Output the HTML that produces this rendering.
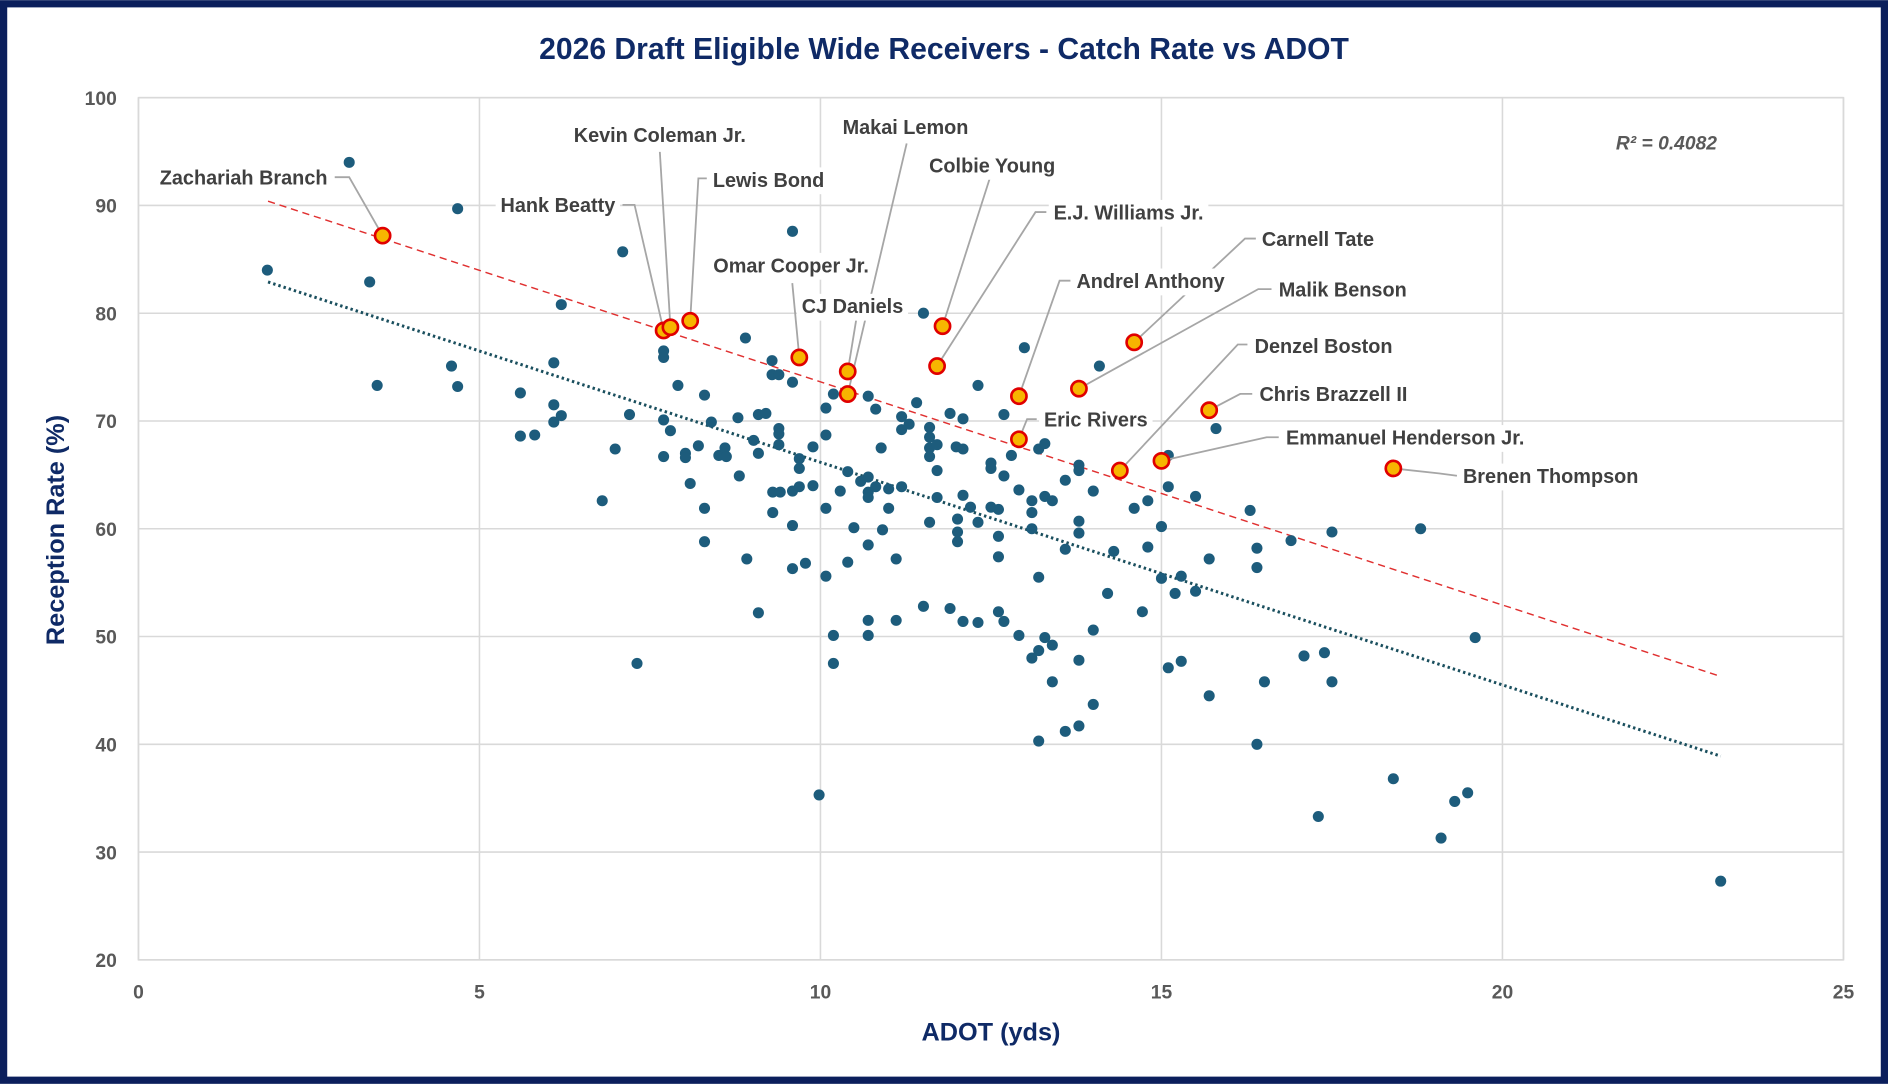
<!DOCTYPE html>
<html><head><meta charset="utf-8">
<style>
html,body{margin:0;padding:0;background:#fff;}
svg{display:block;}
text{font-family:"Liberation Sans",sans-serif;}
</style></head>
<body>
<svg id="chart" width="1888" height="1084" viewBox="0 0 1568 900" xmlns="http://www.w3.org/2000/svg">
<rect x="3" y="3" width="1562" height="894" fill="#fff" stroke="#0b1f5c" stroke-width="6"/>
<text x="784" y="49" text-anchor="middle" font-size="25" font-weight="bold" fill="#0f2a66">2026 Draft Eligible Wide Receivers - Catch Rate vs ADOT</text>
<g id="grid"></g>
<g id="axes"></g>
<g id="trend"></g>
<g id="dots"></g>
<g id="leaders"></g>
<g id="hi"></g>
<g id="labels"></g>
<text x="1342" y="124" font-size="16" font-style="italic" font-weight="bold" fill="#595959">R² = 0.4082</text>
<text transform="translate(53,440) rotate(-90)" text-anchor="middle" font-size="21" font-weight="bold" fill="#0f2a66">Reception Rate (%)</text>
<text x="823" y="864" text-anchor="middle" font-size="21" font-weight="bold" fill="#0f2a66">ADOT (yds)</text>
</svg>
<script>
const xTicks=[0,5,10,15,20,25];
const yTicks=[20,30,40,50,60,70,80,90,100];
const adot=[1.89,3.09,3.39,3.50,4.68,4.59,4.68,5.60,5.60,5.81,6.09,6.09,6.09,6.20,6.20,7.10,6.99,6.80,7.20,7.31,7.70,7.70,7.70,7.70,7.80,7.91,8.02,8.02,8.09,8.21,8.30,8.30,8.30,8.40,8.51,8.60,8.62,8.81,8.79,8.90,8.92,9.02,9.09,9.09,9.09,9.20,9.29,9.29,9.30,9.30,9.39,9.39,9.39,9.39,9.41,9.59,9.59,9.59,9.59,9.59,9.69,9.69,9.69,9.78,9.89,9.89,9.98,10.08,10.08,10.08,10.08,10.19,10.19,10.19,10.29,10.40,10.40,10.49,10.59,10.70,10.70,10.70,10.70,10.70,10.70,10.70,10.81,10.81,10.89,10.91,11.00,11.00,11.11,11.11,11.19,11.19,11.19,11.30,11.41,11.51,11.51,11.60,11.60,11.60,11.60,11.60,11.71,11.71,11.71,11.90,11.90,11.99,12.01,12.01,12.01,12.09,12.09,12.09,12.09,12.20,12.31,12.31,12.31,12.50,12.50,12.50,12.61,12.61,12.61,12.61,12.69,12.69,12.69,12.80,12.91,12.91,12.99,13.10,13.10,13.10,13.10,13.20,13.20,13.20,13.20,13.29,13.29,13.29,13.40,13.40,13.40,13.59,13.59,13.59,13.79,13.79,13.79,13.79,13.79,13.79,14.00,14.00,14.00,14.09,14.21,14.30,14.60,14.72,14.80,14.80,15.00,15.00,15.10,15.10,15.10,15.20,15.29,15.29,15.50,15.50,15.70,15.70,15.80,16.30,16.40,16.40,16.40,16.51,16.90,17.09,17.30,17.39,17.50,17.50,18.40,18.80,19.10,19.30,19.49,19.60,23.20];
const rate=[84.0,94.0,82.9,73.3,89.7,75.1,73.2,72.6,68.6,68.7,75.4,71.5,69.9,70.5,80.8,85.7,67.4,62.6,70.6,47.5,76.5,75.9,70.1,66.7,69.1,73.3,67.0,66.6,64.2,67.7,72.4,61.9,58.8,69.9,66.8,67.5,66.7,64.9,70.3,77.7,57.2,68.2,70.6,67.0,52.2,70.7,75.6,74.3,63.4,61.5,69.3,68.8,67.8,74.3,63.4,87.6,73.6,63.5,60.3,56.3,66.5,65.6,63.9,56.8,67.6,64.0,35.3,71.2,68.7,61.9,55.6,72.5,50.1,47.5,63.5,65.3,56.9,60.1,64.4,72.3,64.8,63.4,62.9,58.5,51.5,50.1,71.1,63.9,67.5,59.9,63.7,61.9,57.2,51.5,70.4,69.2,63.9,69.7,71.7,80.0,52.8,69.4,68.5,67.5,66.7,60.6,67.8,65.4,62.9,70.7,52.6,67.6,60.9,59.7,58.8,70.2,67.4,63.1,51.4,62.0,73.3,60.6,51.3,66.1,65.6,62.0,61.8,59.3,57.4,52.3,70.6,64.9,51.4,66.8,63.6,50.1,76.8,62.6,61.5,60.0,48.0,67.4,55.5,48.7,40.3,67.9,63.0,49.9,62.6,49.2,45.8,64.5,58.1,41.2,65.9,65.4,60.7,59.6,47.8,41.7,63.5,50.6,43.7,75.1,54.0,57.9,61.9,52.3,62.6,58.3,60.2,55.4,66.8,63.9,47.1,54.0,55.6,47.7,63.0,54.2,57.2,44.5,69.3,61.7,58.2,56.4,40.0,45.8,58.9,48.2,33.3,48.5,59.7,45.8,36.8,60.0,31.3,34.7,35.5,49.9,27.3];
const hiNames=["Zachariah Branch","Hank Beatty","Kevin Coleman Jr.","Lewis Bond","Omar Cooper Jr.","CJ Daniels","Makai Lemon","Colbie Young","E.J. Williams Jr.","Andrel Anthony","Eric Rivers","Carnell Tate","Malik Benson","Denzel Boston","Chris Brazzell II","Emmanuel Henderson Jr.","Brenen Thompson"];
const hiAdot=[3.58,7.70,7.80,8.09,9.69,10.40,10.40,11.79,11.71,12.91,12.91,14.60,13.79,14.39,15.70,15.00,18.40];
const hiRate=[87.2,78.4,78.7,79.3,75.9,74.6,72.5,78.8,75.1,72.3,68.3,77.3,73.0,65.4,71.0,66.3,65.6];
const trendX=[1.9,23.2];
const trendBlue=[82.9,38.9];
const trendRed=[90.4,46.3];

const X0=115,X1=1531,Y0=797,Y1=81;
const sx=v=>X0+(v-0)/25*(X1-X0);
const sy=v=>Y0-(v-20)/80*(Y0-Y1);
const NS="http://www.w3.org/2000/svg";
function mk(tag,attrs,parent){const e=document.createElementNS(NS,tag);for(const k in attrs)e.setAttribute(k,attrs[k]);parent.appendChild(e);return e;}
const grid=document.getElementById('grid'),axes=document.getElementById('axes');
xTicks.forEach(t=>{
  const l=mk('line',{x1:sx(t),x2:sx(t),y1:Y1,y2:Y0,stroke:'#d9d9d9','stroke-width':1.3},grid);
  
  
  const tx=mk('text',{x:sx(t),y:Y0+32,'text-anchor':'middle','font-size':16,'font-weight':'bold',fill:'#595959'},axes);
  tx.textContent=t;
  
  
});
yTicks.forEach(t=>{
  const l=mk('line',{x1:X0,x2:X1,y1:sy(t),y2:sy(t),stroke:'#d9d9d9','stroke-width':1.3},grid);
  
  
  const tx=mk('text',{x:97,y:sy(t)+6,'text-anchor':'end','font-size':16,'font-weight':'bold',fill:'#595959'},axes);
  tx.textContent=t;
  
  
});
const tr=document.getElementById('trend');
const tb=mk('line',{x1:sx(trendX[0]),y1:sy(trendBlue[0]),x2:sx(trendX[1]),y2:sy(trendBlue[1]),stroke:'#1a4f5e','stroke-width':2.5,'stroke-dasharray':'2 2.5'},tr);


const trd=mk('line',{x1:sx(trendX[0]),y1:sy(trendRed[0]),x2:sx(trendX[1]),y2:sy(trendRed[1]),stroke:'#e03030','stroke-width':1.2,'stroke-dasharray':'6 4'},tr);


const dots=document.getElementById('dots');
adot.forEach((a,i)=>{
  const c=mk('circle',{cx:sx(a),cy:sy(rate[i]),r:4.6,fill:'#1d5c7c'},dots);
  
  
});
// label layout: [text x, text y baseline, anchor, leader path start points (display px)]
const labelPos={
 "Zachariah Branch":[272,153,'end',[[278,147],[290,147]]],
 "Hank Beatty":[511,176,'end',[[517,170],[527,170]]],
 "Kevin Coleman Jr.":[548,118,'middle',[[548,126]]],
 "Lewis Bond":[592,155,'start',[[587,148],[580,148]]],
 "Omar Cooper Jr.":[657,226,'middle',[[658,235]]],
 "CJ Daniels":[708,260,'middle',[[711,266]]],
 "Makai Lemon":[752,111,'middle',[[753,119]]],
 "Colbie Young":[824,143,'middle',[[822,148]]],
 "E.J. Williams Jr.":[875,182,'start',[[869,176],[860,176]]],
 "Andrel Anthony":[894,239,'start',[[889,233],[880,233]]],
 "Eric Rivers":[867,354,'start',[[861,348],[853,348]]],
 "Carnell Tate":[1048,204,'start',[[1043,198],[1034,198]]],
 "Malik Benson":[1062,246,'start',[[1056,240],[1045,240]]],
 "Denzel Boston":[1042,293,'start',[[1036,286],[1028,286]]],
 "Chris Brazzell II":[1046,333,'start',[[1040,327],[1030,327]]],
 "Emmanuel Henderson Jr.":[1068,369,'start',[[1062,363],[1052,363]]],
 "Brenen Thompson":[1215,401,'start',[[1210,395],[1195,393]]]
};
const leaders=document.getElementById('leaders'),hi=document.getElementById('hi'),labels=document.getElementById('labels');
hiNames.forEach((n,i)=>{
  const px=sx(hiAdot[i]),py=sy(hiRate[i]);
  const L=labelPos[n];
  const pts=L[3].map(p=>p.join(',')).concat([px+','+py]).join(' ');
  const pl=mk('polyline',{points:pts,fill:'none',stroke:'#a6a6a6','stroke-width':1.5},leaders);
  
  
  const c=mk('circle',{cx:px,cy:py,r:6.3,fill:'#f7b500',stroke:'#e00000','stroke-width':2.2},hi);
  
  
  const g=mk('g',{},labels);
  
  
  const bg=mk('rect',{fill:'#fff'},g);
  const t=mk('text',{x:L[0],y:L[1],'text-anchor':L[2],'font-size':16.5,'font-weight':'bold',fill:'#404040'},g);
  t.textContent=n;
  const b=t.getBBox();
  bg.setAttribute('x',b.x-4);bg.setAttribute('y',b.y-2);bg.setAttribute('width',b.width+8);bg.setAttribute('height',b.height+4);
});
// plot border drawn on top of gridlines edges
const br=mk('rect',{x:X0,y:Y1,width:X1-X0,height:Y0-Y1,fill:'none',stroke:'#d9d9d9','stroke-width':1.3},axes);


</script>
</body></html>
